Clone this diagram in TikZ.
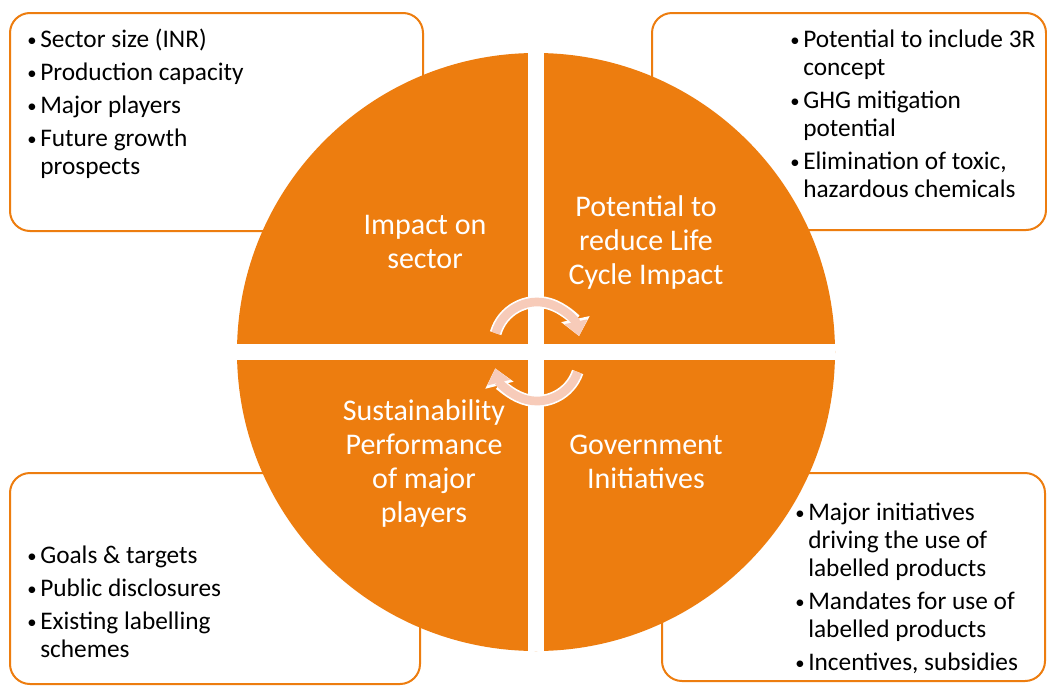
\documentclass[tikz,border=0pt]{standalone}
\usepackage{fontspec}
\setmainfont{Carlito}
\usetikzlibrary{arrows.meta,fit}

\definecolor{sectororange}{RGB}{237,125,15}
\definecolor{arrowpeach}{RGB}{247,203,185}

% bullet and hanging indent for the side lists
\newcommand{\bul}{\makebox[9.75pt][l]{\raisebox{1.2pt}{\fontsize{14}{14}\selectfont\textbullet}}\strut}
\newcommand{\cont}{\hspace*{9.75pt}}

\begin{document}
\begin{tikzpicture}[
  x=0.75pt, y=-0.75pt,
  panel/.style={draw=sectororange, line width=1.5pt, rounded corners=15pt, fill=white, inner sep=0pt},
  points/.style={align=left, inner sep=0pt, anchor=north west, font=\fontsize{19}{21}\selectfont},
  quarter/.style={align=center, text=white, font=\fontsize{22.5}{25.5}\selectfont},
  band/.style={white, line width=12pt},
  turnback/.style={white, line width=9pt, -{Triangle[width=21pt,length=13pt]}},
  turn/.style={arrowpeach, line width=6.5pt, -{Triangle[width=17pt,length=11pt]}}
]
\fill[white] (0,0) rectangle (1047,686);
\useasboundingbox (0,0) rectangle (1047,686);

% corner panels, behind the disc
\node[panel, fit={(10,13) (423,231)}] (sizebox) {};
\node[panel, fit={(652,13) (1046,230)}] (cyclebox) {};
\node[panel, fit={(10,473) (420,684)}] (playerbox) {};
\node[panel, fit={(662,473) (1045,681)}] (govbox) {};

% the disc, cut into quarters
\node[circle, fill=sectororange, minimum size=448.5pt, inner sep=0pt] (disc) at (536,352) {};
\draw[band] (disc.north) -- (disc.south);
\draw[band] (disc.west) -- (disc.east);

\node[quarter] (impact) at (425,242) {Impact on\\sector};
\node[quarter] (reduce) at (646,242) {Potential to\\reduce Life\\Cycle Impact};
\node[quarter] (perform) at (424,463) {Sustainability\\Performance\\of major\\players};
\node[quarter] (govt) at (646,462) {Government\\Initiatives};

% cycle arrows in the middle
\coordinate (topturn) at (537,345);
\coordinate (lowturn) at (537,358);
\draw[turnback] (topturn) ++(-164:43) arc[start angle=-164, end angle=-12, radius=43];
\draw[turn] (topturn) ++(-164:43) arc[start angle=-164, end angle=-12, radius=43];
\draw[turnback] (lowturn) ++(19:43) arc[start angle=19, end angle=166, radius=43];
\draw[turn] (lowturn) ++(19:43) arc[start angle=19, end angle=166, radius=43];

% lists
\node[points] (sizelist) at (27,28) {\bul Sector size (INR)\\[3.75pt]
  \bul Production capacity\\[3.75pt]
  \bul Major players\\[3.75pt]
  \bul Future growth\\ \cont prospects};
\node[points] (cyclelist) at (790,28) {\bul Potential to include 3R\\ \cont concept\\[3.75pt]
  \bul GHG mitigation\\ \cont potential\\[3.75pt]
  \bul Elimination of toxic,\\ \cont hazardous chemicals};
\node[points] (playerlist) at (27,544) {\bul Goals \& targets\\[3.75pt]
  \bul Public disclosures\\[3.75pt]
  \bul Existing labelling\\ \cont schemes};
\node[points] (govlist) at (795,501) {\bul Major initiatives\\ \cont driving the use of\\ \cont labelled products\\[3.75pt]
  \bul Mandates for use of\\ \cont labelled products\\[3.75pt]
  \bul Incentives, subsidies};
\end{tikzpicture}
\end{document}
